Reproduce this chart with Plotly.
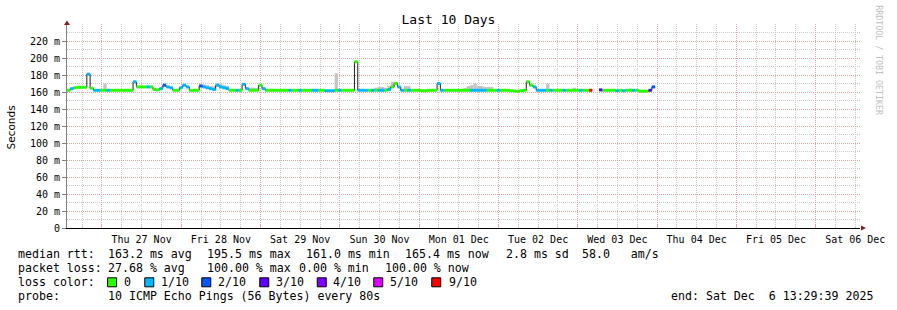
import plotly.graph_objects as go
from datetime import datetime, timedelta

# ---------------- data ----------------
START = datetime(2025, 11, 26, 13, 25, 30)
END = datetime(2025, 12, 6, 13, 25, 30)
STEP_H = 1  # one value per hour

median_ms = [
    162, 164, 165, 165.5, 165.5, 165.5, 181, 164.5, 162, 162,
    162, 162, 162, 162, 162, 162, 162, 162, 162, 162,
    172, 166, 166, 166, 166, 166, 163, 162.5, 164, 168,
    166, 165, 162, 162, 165, 168, 166, 162, 162, 162,
    167, 166, 165, 164, 163, 168, 166, 165, 164, 162,
    162, 162, 162, 169, 164, 162, 162, 162, 168, 164,
    162, 162, 162, 162, 162, 162, 162, 162, 162, 162,
    162, 162, 162, 162, 162, 162, 162, 162, 161.5, 161.5,
    161.5, 162, 162, 162, 162, 162, 162, 195.5, 162, 162,
    162, 162, 162, 162, 162, 162, 162, 163, 166, 170,
    166, 162, 162, 162, 162, 162, 162, 161.5, 161.5, 162,
    162, 162, 170, 162, 162, 162, 162, 162, 162, 162,
    162, 162, 162, 162, 162, 162, 162, 162, 162, 162,
    162, 162, 162, 162, 161.5, 161, 161, 161.5, 162, 172,
    168, 166, 162, 162, 162, 162, 162, 162, 162, 162,
    162, 162, 162, 162, 162, 162, 162, 162, 162, None,
    None, 162.5, 162, 162, 162, 162, 161.5, 162, 161.5, 162,
    162, 162, 162, 161, 161, 161, 162, 166,
]

loss_tenths = [
    0, 1, 0, 0, 0, 0, 1, 0, 1, 1,
    0, 0, 1, 0, 0, 0, 0, 0, 0, 0,
    1, 0, 0, 0, 1, 0, 0, 0, 1, 2,
    1, 1, 0, 0, 1, 1, 1, 0, 0, 0,
    2, 1, 1, 1, 1, 1, 1, 1, 1, 0,
    0, 1, 0, 1, 1, 0, 0, 0, 0, 1,
    0, 0, 0, 0, 0, 0, 0, 1, 0, 0,
    1, 0, 0, 0, 1, 1, 0, 0, 1, 1,
    1, 0, 1, 0, 0, 0, 0, 0, 1, 1,
    1, 0, 1, 0, 1, 1, 0, 1, 0, 0,
    1, 1, 0, 1, 0, 0, 0, 0, 0, 0,
    0, 0, 1, 1, 0, 0, 0, 0, 0, 0,
    0, 0, 1, 1, 1, 1, 1, 0, 0, 0,
    1, 0, 0, 0, 0, 0, 0, 0, 0, 0,
    0, 1, 1, 1, 1, 0, 1, 0, 0, 0,
    1, 0, 0, 0, 0, 1, 0, 0, 9, None,
    None, 3, 0, 0, 0, 0, 1, 0, 1, 0,
    0, 1, 0, 0, 0, 0, 3, 2,
]

smoke_top_ms = [
    None, None, None, 167, 167, 167, None, None, None, None,
    None, 170, None, None, None, None, None, None, None, None,
    None, None, None, None, None, None, None, None, None, None,
    None, None, None, None, None, None, None, None, None, None,
    170, 169, 168, 167, 167, 170, 170, 168, 167, None,
    None, None, None, None, None, 165, 165, 165, None, None,
    None, None, None, None, None, None, None, None, None, None,
    None, None, None, None, None, None, None, None, None, None,
    None, 182, None, None, None, None, None, None, None, None,
    None, None, None, 165, 166, 166, 165, 167, 172, 172,
    None, None, 167, 167, None, None, None, None, None, None,
    None, None, None, None, None, None, None, None, None, None,
    165, 167, 168, 170, 167, 167, 166, 166, 166, None,
    None, None, None, None, None, None, None, None, None, None,
    None, None, None, None, None, 170, None, None, None, None,
    None, None, None, 165, None, None, None, None, None, None,
    None, None, None, None, None, None, None, None, None, None,
    164, None, None, None, None, None, None, None,
]

day_labels = ["Thu 27 Nov", "Fri 28 Nov", "Sat 29 Nov", "Sun 30 Nov", "Mon 01 Dec",
              "Tue 02 Dec", "Wed 03 Dec", "Thu 04 Dec", "Fri 05 Dec", "Sat 06 Dec"]
day_noons = [datetime(2025, 11, 27, 12) + timedelta(days=k) for k in range(len(day_labels))]

y_tickvals = [0, 20, 40, 60, 80, 100, 120, 140, 160, 180, 200, 220]
y_ticktext = ["0"] + [f"{v} m" for v in y_tickvals[1:]]

loss_levels = [0, 1, 2, 3, 4, 5, 9]
loss_names = ["0", "1/10", "2/10", "3/10", "4/10", "5/10", "9/10"]
loss_colors = ["#26ff00", "#00b8ff", "#0059ff", "#5e00ff", "#7e00ff", "#dd00ff", "#ff0000"]

stat_rtt = ["median rtt:", "163.2 ms avg", "195.5 ms max", "161.0 ms min",
            "165.4 ms now", "2.8 ms sd", "58.0\u00a0\u00a0\u00a0am/s"]
stat_loss = ["packet loss:", "27.68 % avg", "100.00 % max", "0.00 % min", "100.00 % now"]
probe_text = ["probe:", "10 ICMP Echo Pings (56 Bytes) every 80s"]
end_text = "end: Sat Dec\u00a0\u00a06 13:29:39 2025"

# ---------------- geometry helpers (layout only) ----------------
W, H = 897, 310
L, R, T, B = 67, 30, 24, 82
PW, PH = W - L - R, H - T - B


def px(x):
    return (x - L) / PW


def py(y):
    return (H - B - y) / PH


MONO = "DejaVu Sans Mono"

n = len(median_ms)
times = [START + timedelta(hours=STEP_H * i) for i in range(n + 1)]
half = timedelta(minutes=30 * STEP_H)

# grid positions: midnights (major) and the 6-hour marks between them (minor)
first_midnight = datetime(2025, 11, 27)
six_hour_marks = []
t = first_midnight - timedelta(hours=18)
while t <= END:
    if t >= START and t.hour != 0:
        six_hour_marks.append(t)
    t += timedelta(hours=6)
y_minor = [v + 10 for v in range(0, 240, 20)]

fig = go.Figure()

# smoke
sx, sb, sh = [], [], []
for i in range(n):
    if smoke_top_ms[i] is not None and median_ms[i] is not None:
        sx.append(times[i] + half)
        sb.append(median_ms[i])
        sh.append(smoke_top_ms[i] - median_ms[i])
fig.add_trace(go.Bar(x=sx, y=sh, base=sb, width=[3600000 * STEP_H] * len(sx),
                     marker=dict(color="#c4c4c4", line=dict(width=0)),
                     showlegend=False, hoverinfo="skip"))

# black median step line
fig.add_trace(go.Scatter(x=times, y=median_ms + [median_ms[-1]], mode="lines",
                         line=dict(color="#202020", width=1, shape="hv"),
                         connectgaps=False, showlegend=False, hoverinfo="skip"))

# colored loss bands
for lvl, col in zip(loss_levels, loss_colors):
    xs, ys = [], []
    for i in range(n):
        if loss_tenths[i] == lvl and median_ms[i] is not None:
            xs += [times[i], times[i + 1], None]
            ys += [median_ms[i], median_ms[i], None]
    if xs:
        fig.add_trace(go.Scatter(x=xs, y=ys, mode="lines",
                                 line=dict(color=col, width=3),
                                 connectgaps=False, showlegend=False, hoverinfo="skip"))

# dummy trace to host the label axis
fig.add_trace(go.Scatter(x=[START], y=[0], xaxis="x2", mode="markers",
                         marker=dict(opacity=0), showlegend=False, hoverinfo="skip"))

MAJ = "#e6a3a3"
MIN = "#c8c8c8"
DOT = "1px,1px"

fig.update_layout(
    width=W, height=H,
    margin=dict(l=L, r=R, t=T, b=B, pad=0),
    paper_bgcolor="white", plot_bgcolor="white",
    barmode="overlay",
    showlegend=False,
    title=dict(text="Last 10 Days", x=0.5, xanchor="center", y=1 - 19.5 / H,
               yanchor="middle", font=dict(family=MONO, size=13, color="black")),
    xaxis=dict(
        type="date", range=[START, END],
        tickmode="linear", tick0="2025-11-27 00:00:00", dtick=86400000,
        showticklabels=False, ticks="inside", ticklen=3, tickcolor=MAJ,
        showgrid=True, gridcolor=MAJ, griddash=DOT, gridwidth=1,
        minor=dict(tickmode="array", tickvals=six_hour_marks,
                   showgrid=True, gridcolor=MIN, griddash=DOT,
                   ticks="inside", ticklen=2, tickcolor=MIN),
        showline=True, linecolor="black", linewidth=1,
        zeroline=False, fixedrange=True,
    ),
    xaxis2=dict(
        type="date", range=[START, END], overlaying="x", side="bottom", anchor="y",
        tickmode="array", tickvals=day_noons, ticktext=day_labels,
        tickfont=dict(family=MONO, size=10, color="black"),
        ticks="", showgrid=False, showline=False, zeroline=False,
        ticklabelstandoff=4,
    ),
    yaxis=dict(
        range=[0, 240], tickmode="array", tickvals=y_tickvals, ticktext=y_ticktext,
        tickfont=dict(family=MONO, size=10, color="black"),
        ticks="outside", ticklen=4, tickcolor="#808080",
        showgrid=True, gridcolor=MAJ, griddash=DOT,
        minor=dict(tickmode="array", tickvals=y_minor, showgrid=True,
                   gridcolor=MIN, griddash=DOT),
        showline=True, linecolor="#808080", linewidth=1,
        zeroline=False, fixedrange=True,
    ),
)

# axis arrows
ARROW = "#8b1a1a"
fig.add_shape(type="path", xref="paper", yref="paper", xsizemode="pixel", ysizemode="pixel",
              xanchor=1, yanchor=0, path="M 1,-2.5 L 6,0 L 1,2.5 Z",
              fillcolor=ARROW, line=dict(color=ARROW, width=0))
fig.add_shape(type="path", xref="paper", yref="paper", xsizemode="pixel", ysizemode="pixel",
              xanchor=0, yanchor=1, path="M -3,-1 L 0,3.5 L 3,-1 Z",
              fillcolor=ARROW, line=dict(color=ARROW, width=0))

annotations = []


def text(x, y, s, size=11.6, anchor="left", color="black", family=MONO, angle=0):
    annotations.append(dict(x=px(x), y=py(y), xref="paper", yref="paper", text=s,
                            showarrow=False, xanchor=anchor, yanchor="middle",
                            textangle=angle, borderpad=0,
                            font=dict(family=family, size=size, color=color)))


# y-axis title and watermark
text(11, 127, "Seconds", size=10.5, anchor="center", family="DejaVu Sans", angle=-90)
text(886, 60, "RRDTOOL / TOBI OETIKER", size=8.3, anchor="center", color="#c0c0c0", angle=90)

# legend lines
rtt_x = [16.3, 107.3, 207.3, 307.3, 407.3, 509, 586]
for s, x in zip(stat_rtt, rtt_x):
    text(x, 254.3, s)
loss_x = [16.3, 107.3, 207.3, 300, 386.7]
for s, x in zip(stat_loss, loss_x):
    text(x, 268.3, s)
text(16.3, 282.3, "loss color:")
box_cx = [112.5, 150, 207.5, 266, 324, 381, 439.5]
lab_x = [123.3, 160.7, 218.3, 276.7, 334.3, 391.7, 451]
for name, col, bx, lx in zip(loss_names, loss_colors, box_cx, lab_x):
    fig.add_shape(type="rect", xref="paper", yref="paper", xsizemode="pixel",
                  ysizemode="pixel", xanchor=px(bx), yanchor=py(282.3),
                  x0=-4.5, x1=4.5, y0=-4.5, y1=4.5,
                  fillcolor=col, line=dict(color="black", width=1))
    text(lx, 282.3, name)
text(16.3, 296, probe_text[0])
text(107.3, 296, probe_text[1])
text(880.7, 296, end_text, anchor="right")

fig.update_layout(annotations=annotations)

fig.write_html("out.html")
